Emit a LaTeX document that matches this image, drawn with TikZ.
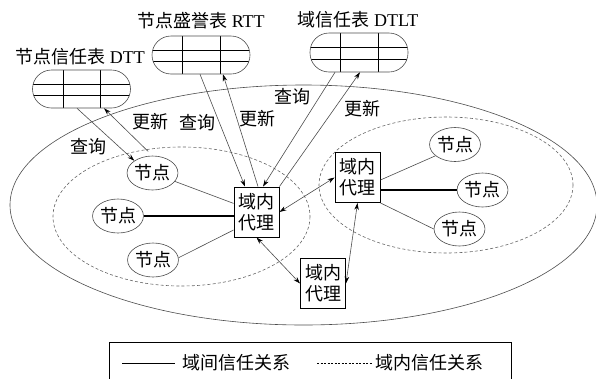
\documentclass[tikz,border=0pt]{standalone}
\usepackage{fontspec}
\setmainfont{Liberation Serif}
\newfontfamily\cjk{Noto Sans CJK SC}
\usetikzlibrary{shapes.geometric,arrows.meta,calc}
\begin{document}
\begin{tikzpicture}[x=1pt,y=-1pt,
  every node/.style={font=\fontsize{18}{21}\selectfont, inner sep=1pt},
  ln/.style={draw=black!70, line width=0.6pt},
  dsh/.style={draw=black!60, line width=0.6pt, dash pattern=on 3pt off 2.2pt},
  tip/.tip={Stealth[length=7pt,width=4.5pt,black]},
  arr/.style={ln, -tip},
  darr/.style={ln, tip-tip},
  thk/.style={draw=black, line width=1.1pt},
  nd/.style={ellipse, draw=black!70, line width=0.6pt, minimum width=47pt, minimum height=34pt, inner sep=0pt, font=\cjk\fontsize{18}{21}\selectfont},
  agent/.style={rectangle, draw=black, line width=0.9pt, minimum width=45pt, minimum height=50pt, inner sep=0pt, align=center, font=\cjk\fontsize{18}{21}\selectfont},
  lbl/.style={font=\cjk\fontsize{18}{21}\selectfont},
  tbl/.style={draw=black!70, line width=0.6pt, rounded corners=19pt, minimum width=98pt, minimum height=38pt, inner sep=0pt,
    path picture={
      \coordinate (A) at (path picture bounding box.north west);
      \coordinate (B) at (path picture bounding box.south east);
      \draw[black, line width=1pt]
        ($(A)!0.316!(A-|B)$) -- ($(A|-B)!0.316!(B)$)
        ($(A)!0.694!(A-|B)$) -- ($(A|-B)!0.694!(B)$)
        ($(A)!0.37!(A|-B)$) -- ($(A-|B)!0.37!(B)$)
        ($(A)!0.68!(A|-B)$) -- ($(A-|B)!0.68!(B)$);
    }},
]
\useasboundingbox (0,0) rectangle (596,378);

% domain ellipses
\draw[ln] (303.5,205) ellipse [x radius=293.5, y radius=120];
\draw[dsh] (181.5,216.5) ellipse [x radius=128.5, y radius=69.5];
\draw[dsh] (446,185) ellipse [x radius=127, y radius=68];

% tables and titles
\node[tbl] (dtt) at (81.5,89) {};
\node[tbl] (rtt) at (201,55) {};
\node[tbl, minimum height=39pt] (dtlt) at (359,52.5) {};
\node (dtttitle) at (80,57) {{\cjk 节点信任表} DTT};
\node (rtttitle) at (201,21) {{\cjk 节点盛誉表} RTT};
\node (dtlttitle) at (358,20) {{\cjk 域信任表} DTLT};

% nodes
\node[nd] (n1) at (152.5,173) {节点};
\node[nd] (n2) at (118,216) {节点};
\node[nd] (n3) at (153,260) {节点};
\node[nd] (m1) at (455,144.5) {节点};
\node[nd] (m2) at (482.5,190) {节点};
\node[nd] (m3) at (459.5,229) {节点};
\node[agent] (c) at (256.5,212) {域内\\代理};
\node[agent] (r) at (357.5,177.5) {域内\\代理};
\node[agent] (b) at (323,283.5) {域内\\代理};

% labels
\node[lbl] (q1) at (88,147) {查询};
\node[lbl] (u1) at (150,122) {更新};
\node[lbl] (q2) at (197,123) {查询};
\node[lbl] (u2) at (257,119) {更新};
\node[lbl] (q3) at (292,97) {查询};
\node[lbl] (u3) at (362,109) {更新};

% table arrows
\draw[arr] ([xshift=-4.5pt]dtt.south) -- (n1.146);
\draw[arr, shorten <=6pt] (n1.north) -- ([xshift=22.5pt]dtt.south);
\draw[arr] ([xshift=-1pt]rtt.south) -- ([xshift=-11.5pt]c.north);
\draw[arr] ([xshift=1.5pt]c.north) -- ([xshift=22pt]rtt.south);
\draw[arr] ([xshift=-24pt]dtlt.south) -- ([xshift=6.5pt]c.north);
\draw[arr] (c.north east) -- ([xshift=1pt]dtlt.south);

% agent links
\draw[darr] (c.east) -- (r.west);
\draw[darr] (c.south) -- (b.west);
\draw[darr] (r.south) -- (b.east);

% node links
\draw[ln] (n1) -- (c);
\draw[thk] (n2.east) -- (n2.east -| c.west);
\draw[ln] (n3.5) -- ([yshift=-18pt]c.west);
\draw[ln] ([yshift=-2.5pt]r.east) -- (m1.210);
\draw[thk] (m2.west -| r.east) -- (m2.west);
\draw[ln] (r.south east) -- (m3.west);

% legend
\draw[black, line width=0.8pt] (109,342) rectangle (511,392);
\coordinate (la) at (122,363);
\coordinate (lb) at (175,363);
\coordinate (lc) at (317,363);
\coordinate (ld) at (373,363);
\draw[black, line width=0.9pt] (la) -- (lb);
\draw[black, line width=0.7pt, dash pattern=on 2pt off 1.5pt] (lc) -- (ld);
\node[lbl, anchor=west, inner sep=0pt] (lt1) at (182,363) {域间信任关系};
\node[lbl, anchor=west, inner sep=0pt] (lt2) at (375,363) {域内信任关系};
\end{tikzpicture}
\end{document}
